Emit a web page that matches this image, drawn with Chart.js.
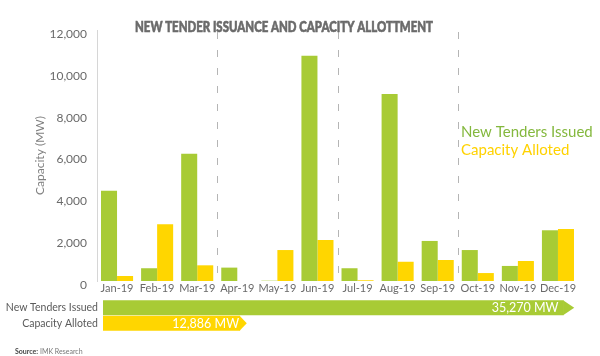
<!DOCTYPE html>
<html>
<head>
<meta charset="utf-8">
<script src="https://cdn.jsdelivr.net/npm/chart.js@4.4.1/dist/chart.umd.min.js"></script>
<style>
  html, body { margin: 0; padding: 0; background: #fff; }
  #wrap { position: relative; width: 600px; height: 356px; overflow: hidden; }
  #main { position: absolute; left: 0; top: 0; }
  #foot { position: absolute; left: 0; top: 296px; }
</style>
</head>
<body>
<div id="wrap">
  <canvas id="main" width="600" height="356"></canvas>
  <canvas id="foot" width="600" height="40"></canvas>
</div>
<script>
// ---- data ----
const months = ['Jan-19','Feb-19','Mar-19','Apr-19','May-19','Jun-19','Jul-19','Aug-19','Sep-19','Oct-19','Nov-19','Dec-19'];
const newTenders = [4320, 610, 6080, 640, 15, 10770, 610, 8940, 1915, 1480, 720, 2425];
const capacityAlloted = [240, 2710, 750, 0, 1480, 1960, 35, 920, 1005, 380, 955, 2490];
const seriesNames = ['New Tenders Issued', 'Capacity Alloted'];
const totals = [35270, 12886];
const yTicks = [0, 2000, 4000, 6000, 8000, 10000, 12000];
const quarterBreaks = [2.5, 5.5, 8.5];
const chartTitle = 'NEW TENDER ISSUANCE AND CAPACITY ALLOTTMENT';
const sourceLabel = 'Source:';
const sourceText = ' IMK Research';

const GREEN = '#A8CB35';
const YELLOW = '#FFD600';
const FONT = 'Lato, "Open Sans", sans-serif';

const overlay = {
  id: 'overlay',
  beforeDatasetsDraw(chart) {
    const {ctx, chartArea, scales: {x}} = chart;
    ctx.save();
    ctx.strokeStyle = '#b5b5b5';
    ctx.lineWidth = 1;
    ctx.setLineDash([7, 11]);
    quarterBreaks.forEach(b => {
      const lo = Math.floor(b), hi = Math.ceil(b);
      const px = Math.round((x.getPixelForValue(lo) + x.getPixelForValue(hi)) / 2) + 0.5;
      ctx.beginPath();
      ctx.moveTo(px, chartArea.top + 2);
      ctx.lineTo(px, chartArea.bottom);
      ctx.stroke();
    });
    ctx.restore();
  },
  afterDraw(chart) {
    const {ctx} = chart;
    ctx.save();
    // title
    ctx.fillStyle = '#6b6b6b';
    ctx.strokeStyle = '#6b6b6b';
    ctx.lineWidth = 0.6;
    ctx.font = '900 14.5px ' + FONT;
    ctx.textAlign = 'center';
    ctx.textBaseline = 'middle';
    ctx.fillText(chartTitle, 284, 27, 298);
    ctx.strokeText(chartTitle, 284, 27, 298);
    // legend
    ctx.textAlign = 'left';
    ctx.font = '15px ' + FONT;
    ctx.fillStyle = '#84B83E';
    ctx.fillText(seriesNames[0], 461, 132);
    ctx.fillStyle = '#FFD200';
    ctx.fillText(seriesNames[1], 461, 150);
    // source
    ctx.font = 'bold 7px ' + FONT;
    ctx.fillStyle = '#444';
    ctx.fillText(sourceLabel, 15, 352);
    const w = ctx.measureText(sourceLabel).width;
    ctx.font = '7px ' + FONT;
    ctx.fillStyle = '#777';
    ctx.fillText(sourceText, 15 + w, 352);
    ctx.restore();
  }
};

new Chart(document.getElementById('main'), {
  type: 'bar',
  data: {
    labels: months,
    datasets: [
      { label: seriesNames[0], data: newTenders, backgroundColor: GREEN },
      { label: seriesNames[1], data: capacityAlloted, backgroundColor: YELLOW }
    ]
  },
  options: {
    responsive: false,
    animation: false,
    layout: { padding: { left: 33, right: 22, top: 30, bottom: 60 } },
    plugins: { legend: { display: false }, tooltip: { enabled: false } },
    datasets: { bar: { categoryPercentage: 0.8, barPercentage: 1.0 } },
    scales: {
      x: {
        grid: { display: false, drawTicks: false },
        border: { display: false },
        ticks: { color: '#6a6a6a', font: { family: FONT, size: 11 }, padding: 1, maxRotation: 0, autoSkip: false },
        afterFit(s) { s.height = 15; }
      },
      y: {
        min: 0, max: 12000,
        afterBuildTicks(s) { s.ticks = yTicks.map(v => ({ value: v })); },
        grid: { display: false, drawTicks: false },
        border: { display: true, color: '#d6d6d6', width: 1 },
        ticks: {
          color: '#6a6a6a', font: { family: FONT, size: 12 }, padding: 10, labelOffset: 4,
          callback: v => v.toLocaleString('en-US')
        },
        title: { display: true, text: 'Capacity (MW)', color: '#808080', font: { family: FONT, size: 12 }, padding: 0 },
        afterFit(s) { s.width = 64; }
      }
    }
  },
  plugins: [overlay]
});

const arrows = {
  id: 'arrows',
  afterDatasetsDraw(chart) {
    const {ctx} = chart;
    const meta = chart.getDatasetMeta(0);
    const colors = chart.data.datasets[0].backgroundColor;
    const tipRatio = [0.72, 0.45];
    ctx.save();
    meta.data.forEach((el, i) => {
      const h = el.height;
      ctx.fillStyle = colors[i];
      ctx.beginPath();
      ctx.moveTo(el.x - 0.5, el.y - h / 2);
      ctx.lineTo(el.x + h * tipRatio[i], el.y);
      ctx.lineTo(el.x - 0.5, el.y + h / 2);
      ctx.closePath();
      ctx.fill();
      ctx.fillStyle = '#ffffff';
      ctx.font = '12.5px ' + FONT;
      ctx.textAlign = 'right';
      ctx.textBaseline = 'middle';
      const val = chart.data.datasets[0].data[i];
      ctx.fillText(val.toLocaleString('en-US') + ' MW', el.x - (i === 0 ? 5 : 1), el.y + 0.5);
    });
    ctx.restore();
  }
};

new Chart(document.getElementById('foot'), {
  type: 'bar',
  data: {
    labels: seriesNames,
    datasets: [{ data: totals, backgroundColor: [GREEN, YELLOW] }]
  },
  options: {
    indexAxis: 'y',
    responsive: false,
    animation: false,
    layout: { padding: { left: 0, right: 10, top: 4, bottom: 5 } },
    plugins: { legend: { display: false }, tooltip: { enabled: false } },
    datasets: { bar: { categoryPercentage: 1.0, barPercentage: 0.96 } },
    scales: {
      x: { display: false, min: 3400, max: 37100 },
      y: {
        grid: { display: false, drawTicks: false },
        border: { display: false },
        ticks: { color: '#5a5a5a', font: { family: FONT, size: 10.5 }, padding: 5, autoSkip: false },
        afterFit(s) { s.width = 103; s.paddingTop = 0; s.paddingBottom = 0; }
      }
    }
  },
  plugins: [arrows]
});
</script>
</body>
</html>
